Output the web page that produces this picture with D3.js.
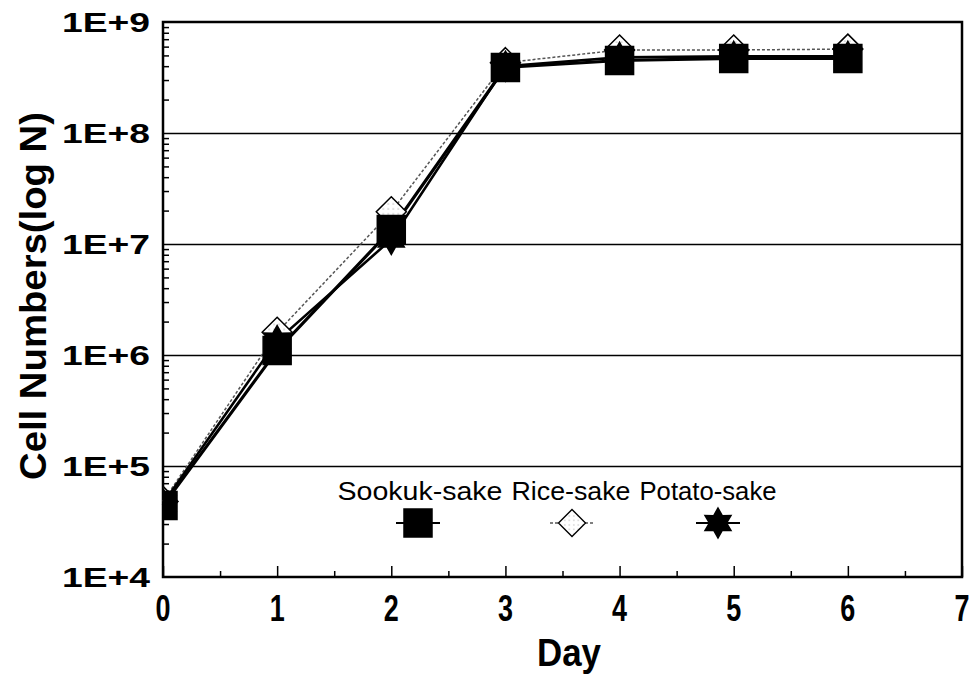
<!DOCTYPE html>
<html>
<head>
<meta charset="utf-8">
<script src="https://cdn.jsdelivr.net/npm/d3@7"></script>
<style>
  html, body { margin: 0; padding: 0; background: #fff; }
  svg { display: block; }
  text { font-family: Arial, "Liberation Sans", Helvetica, sans-serif; fill: #000; }
</style>
</head>
<body>
<svg id="chart" width="979" height="674"></svg>
<script>
// Growth curves of yeast cell numbers during fermentation
const days = [0, 1, 2, 3, 4, 5, 6];
const sookukSake = [4.4e4, 1.1e6, 1.35e7, 3.9e8, 4.5e8, 4.7e8, 4.7e8];
const riceSake   = [4.8e4, 1.6e6, 1.95e7, 4.3e8, 5.6e8, 5.6e8, 5.7e8];
const potatoSake = [4.6e4, 1.35e6, 1.1e7, 4.0e8, 4.8e8, 4.9e8, 4.9e8];
const seriesNames = ["Sookuk-sake", "Rice-sake", "Potato-sake"];
const xTicks = [0, 1, 2, 3, 4, 5, 6, 7];
const yTicks = [1e4, 1e5, 1e6, 1e7, 1e8, 1e9];

const svg = d3.select("#chart");
const plotLeft = 163, plotRight = 962, plotTop = 22, plotBottom = 577;

const x = d3.scaleLinear().domain([0, 7]).range([plotLeft, plotRight]);
const y = d3.scaleLog().domain([1e4, 1e9]).range([plotBottom, plotTop]);

// horizontal gridlines at each decade
svg.append("g")
  .attr("transform", `translate(${plotLeft},0)`)
  .call(d3.axisLeft(y).tickValues(yTicks.slice(1, -1)).tickSize(-(plotRight - plotLeft)).tickFormat(""))
  .call(g => g.select(".domain").remove())
  .call(g => g.selectAll("line").attr("stroke", "#000").attr("stroke-width", 1.6));

// minor log ticks on the inside of the y axis
const minor = [];
for (let e = 4; e < 9; e++) for (let m = 2; m <= 9; m++) minor.push(m * Math.pow(10, e));
svg.append("g")
  .attr("transform", `translate(${plotLeft},0)`)
  .call(d3.axisLeft(y).tickValues(minor).tickSize(-6).tickFormat(""))
  .call(g => g.select(".domain").remove())
  .call(g => g.selectAll("line").attr("stroke", "#000").attr("stroke-width", 1.5));

// x ticks point up into the plot: majors at days, minors at half days
svg.append("g")
  .attr("transform", `translate(0,${plotBottom})`)
  .call(d3.axisBottom(x).tickValues(d3.range(0.5, 7, 1)).tickSize(-6).tickFormat(""))
  .call(g => g.select(".domain").remove())
  .call(g => g.selectAll("line").attr("stroke", "#000").attr("stroke-width", 1.5));
svg.append("g")
  .attr("transform", `translate(0,${plotBottom})`)
  .call(d3.axisBottom(x).tickValues(xTicks).tickSize(-11).tickFormat(""))
  .call(g => g.select(".domain").remove())
  .call(g => g.selectAll("line").attr("stroke", "#000").attr("stroke-width", 1.5));

// plot frame
svg.append("rect")
  .attr("x", plotLeft).attr("y", plotTop)
  .attr("width", plotRight - plotLeft).attr("height", plotBottom - plotTop)
  .attr("fill", "none").attr("stroke", "#000").attr("stroke-width", 2.5);

// y tick labels
svg.append("g").selectAll("text")
  .data(yTicks)
  .join("text")
  .attr("x", 150)
  .attr("y", d => y(d))
  .attr("dy", "0.36em")
  .attr("text-anchor", "end")
  .attr("font-size", 28)
  .attr("font-weight", "bold")
  .attr("textLength", 88)
  .attr("lengthAdjust", "spacingAndGlyphs")
  .text(d => "1E+" + Math.round(Math.log10(d)));

// x tick labels
svg.append("g").selectAll("text")
  .data(xTicks)
  .join("text")
  .attr("x", d => x(d))
  .attr("y", 621)
  .attr("text-anchor", "middle")
  .attr("font-size", 36)
  .attr("font-weight", "bold")
  .attr("textLength", 15)
  .attr("lengthAdjust", "spacingAndGlyphs")
  .text(d => d);

// axis titles
svg.append("text")
  .attr("x", 569).attr("y", 666)
  .attr("text-anchor", "middle")
  .attr("font-size", 38).attr("font-weight", "bold")
  .attr("textLength", 64).attr("lengthAdjust", "spacingAndGlyphs")
  .text("Day");
svg.append("text")
  .attr("transform", "translate(46,296) rotate(-90)")
  .attr("text-anchor", "middle")
  .attr("font-size", 37).attr("font-weight", "bold")
  .attr("textLength", 368).attr("lengthAdjust", "spacingAndGlyphs")
  .text("Cell Numbers(log N)");

// marker shapes
const squarePath = "M-14,-14H14V14H-14Z";
const diamondPath = "M0,-15L15,0L0,15L-15,0Z";
const starPath = (() => {
  const pts = [];
  for (let i = 0; i < 12; i++) {
    const r = i % 2 === 0 ? 15 : 8.5;
    const a = -Math.PI / 2 + i * Math.PI / 6;
    pts.push([r * Math.cos(a), r * Math.sin(a)]);
  }
  return "M" + pts.map(p => p[0].toFixed(2) + "," + p[1].toFixed(2)).join("L") + "Z";
})();

// stippled fill for the open diamonds
const defs = svg.append("defs");
const pat = defs.append("pattern").attr("id", "stipple")
  .attr("width", 5).attr("height", 5).attr("patternUnits", "userSpaceOnUse");
pat.append("rect").attr("width", 5).attr("height", 5).attr("fill", "#fff");
pat.append("circle").attr("cx", 2).attr("cy", 2).attr("r", 0.6).attr("fill", "#777");
defs.append("clipPath").attr("id", "plotClip")
  .append("rect").attr("x", plotLeft).attr("y", 0).attr("width", plotRight - plotLeft + 20).attr("height", plotBottom);

const series = [
  { name: seriesNames[1], values: riceSake,   stroke: "#555", width: 1.5, dash: "3,2", path: diamondPath, fill: "url(#stipple)", outline: "#000" },
  { name: seriesNames[2], values: potatoSake, stroke: "#000", width: 2.6, dash: null,  path: starPath,    fill: "#000", outline: "#000" },
  { name: seriesNames[0], values: sookukSake, stroke: "#000", width: 3.2, dash: null,  path: squarePath,  fill: "#000", outline: "#000" }
];

const line = d3.line().x((d, i) => x(days[i])).y(d => y(d));

svg.append("g").selectAll("path")
  .data(series)
  .join("path")
  .attr("d", s => line(s.values))
  .attr("fill", "none")
  .attr("stroke", s => s.stroke)
  .attr("stroke-width", s => s.width)
  .attr("stroke-dasharray", s => s.dash);

const markers = svg.append("g").attr("clip-path", "url(#plotClip)");
series.forEach(s => {
  markers.append("g").selectAll("path")
    .data(s.values)
    .join("path")
    .attr("transform", (d, i) => `translate(${x(days[i])},${y(d)})`)
    .attr("d", s.path)
    .attr("fill", s.fill)
    .attr("stroke", s.outline)
    .attr("stroke-width", 1.5);
});

// legend
const legendItems = [
  { s: series[2], label: seriesNames[0], tx: 420, tl: 165, mx: 418 },
  { s: series[0], label: seriesNames[1], tx: 571, tl: 119, mx: 572 },
  { s: series[1], label: seriesNames[2], tx: 708, tl: 137, mx: 718 }
];
const lg = svg.append("g");
legendItems.forEach(it => {
  lg.append("text")
    .attr("x", it.tx).attr("y", 500)
    .attr("text-anchor", "middle")
    .attr("font-size", 25)
    .attr("textLength", it.tl).attr("lengthAdjust", "spacingAndGlyphs")
    .text(it.label);
  lg.append("line")
    .attr("x1", it.mx - 22).attr("x2", it.mx + 22)
    .attr("y1", 523).attr("y2", 523)
    .attr("stroke", it.s.stroke)
    .attr("stroke-width", it.s.dash ? 1.4 : 2)
    .attr("stroke-dasharray", it.s.dash);
  lg.append("path")
    .attr("transform", `translate(${it.mx},523) scale(${it.s.path === diamondPath ? 0.9 : 1})`)
    .attr("d", it.s.path)
    .attr("fill", it.s.fill)
    .attr("stroke", it.s.outline)
    .attr("stroke-width", 1.5);
});
</script>
</body>
</html>
